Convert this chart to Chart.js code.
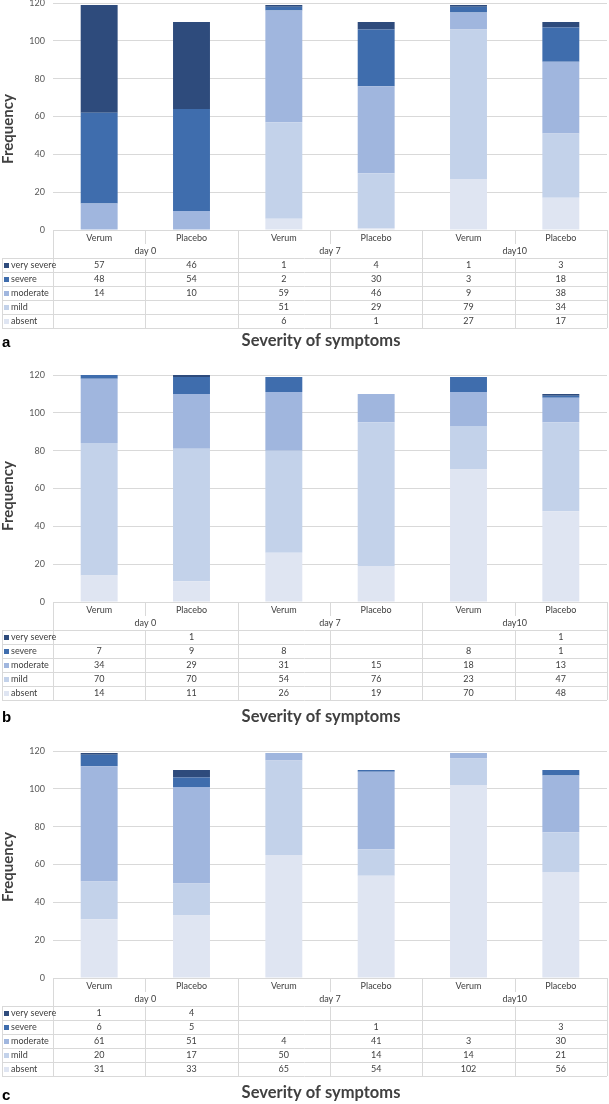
<!DOCTYPE html>
<html>
<head>
<meta charset="utf-8">
<title>Severity of symptoms</title>
<script src="https://cdn.jsdelivr.net/npm/chart.js@4.4.1/dist/chart.umd.min.js"></script>
<style>
    html, body { margin: 0; padding: 0; background: #fff; width: 609px; height: 1104px; overflow: hidden; }
    .panel { position: absolute; left: 0; width: 609px; height: 370px; }
</style>
</head>
<body>
<div class="panel" style="top:-12px;"><canvas id="chart-a"></canvas></div>
<div class="panel" style="top:360px;"><canvas id="chart-b"></canvas></div>
<div class="panel" style="top:736px;"><canvas id="chart-c"></canvas></div>

<script>
/* ── DATA ─────────────────────────────────────────────── */

var CATEGORIES = ['Verum', 'Placebo', 'Verum', 'Placebo', 'Verum', 'Placebo'];
var DAYS       = ['day 0', 'day 7', 'day10'];
var SEVERITY   = ['very severe', 'severe', 'moderate', 'mild', 'absent'];
var Y_MAX      = 120;
var Y_STEP     = 20;
var AXIS_TITLE = 'Frequency';
var X_TITLE    = 'Severity of symptoms';

// panel a
var A_VERY_SEVERE = [57, 46, 1, 4, 1, 3];
var A_SEVERE      = [48, 54, 2, 30, 3, 18];
var A_MODERATE    = [14, 10, 59, 46, 9, 38];
var A_MILD        = [null, null, 51, 29, 79, 34];
var A_ABSENT      = [null, null, 6, 1, 27, 17];

// panel b
var B_VERY_SEVERE = [null, 1, null, null, null, 1];
var B_SEVERE      = [7, 9, 8, null, 8, 1];
var B_MODERATE    = [34, 29, 31, 15, 18, 13];
var B_MILD        = [70, 70, 54, 76, 23, 47];
var B_ABSENT      = [14, 11, 26, 19, 70, 48];

// panel c
var C_VERY_SEVERE = [1, 4, null, null, null, null];
var C_SEVERE      = [6, 5, null, 1, null, 3];
var C_MODERATE    = [61, 51, 4, 41, 3, 30];
var C_MILD        = [20, 17, 50, 14, 14, 21];
var C_ABSENT      = [31, 33, 65, 54, 102, 56];

var SEV_COLORS = ['#2E4B7C', '#3F6DAD', '#A0B6DE', '#C3D2EA', '#DFE5F2'];
var TEXT_COLOR = '#404040';
var LINE_COLOR = '#D9D9D9';

/* ── TABLE + LABELS PLUGIN ────────────────────────────── */

function hline(ctx, x1, x2, y) {
    y = Math.round(y) + 0.5;
    ctx.beginPath(); ctx.moveTo(x1, y); ctx.lineTo(x2, y); ctx.stroke();
}
function vline(ctx, x, y1, y2) {
    x = Math.round(x) + 0.5;
    ctx.beginPath(); ctx.moveTo(x, y1); ctx.lineTo(x, y2); ctx.stroke();
}

var tablePlugin = {
    id: 'sevTable',
    afterDraw: function(chart, args, opts) {
        var ctx  = chart.ctx;
        var area = chart.chartArea;
        var xs   = chart.scales.x;
        var rows = opts.rows;               // top → bottom: very severe … absent
        var B = area.bottom, L = area.left, R = area.right;
        var w = (R - L) / CATEGORIES.length;
        var headH = 28, rowH = 14;
        var top2 = B + headH;
        var bottom = top2 + rowH * SEVERITY.length;

        ctx.save();
        ctx.strokeStyle = LINE_COLOR;
        ctx.lineWidth = 1;

        hline(ctx, L, R, B);
        for (var r = 0; r <= SEVERITY.length; r++) hline(ctx, 2, R, top2 + r * rowH);
        vline(ctx, L, B, bottom);
        vline(ctx, R, B, bottom);
        vline(ctx, 2, top2, bottom);
        for (var i = 1; i < CATEGORIES.length; i++) {
            var x = xs.getPixelForValue(i) - w / 2;
            if (i % 2 === 0) {
                vline(ctx, x, B, bottom);
            } else {
                vline(ctx, x, B, B + 14);
                vline(ctx, x, top2, bottom);
            }
        }

        ctx.fillStyle = TEXT_COLOR;
        ctx.font = '9px Lato';
        ctx.textAlign = 'center';
        ctx.textBaseline = 'middle';
        CATEGORIES.forEach(function(c, i) {
            ctx.fillText(c, xs.getPixelForValue(i), B + 8);
        });
        DAYS.forEach(function(d, k) {
            var cx = (xs.getPixelForValue(2 * k) + xs.getPixelForValue(2 * k + 1)) / 2;
            ctx.fillText(d, cx, B + 21);
        });

        SEVERITY.forEach(function(s, r) {
            var cy = top2 + r * rowH + rowH / 2 + 0.5;
            ctx.fillStyle = SEV_COLORS[r];
            ctx.fillRect(4, Math.round(cy) - 3, 5, 5);
            ctx.fillStyle = TEXT_COLOR;
            ctx.textAlign = 'left';
            ctx.fillText(s, 11, cy);
            ctx.textAlign = 'center';
            rows[r].forEach(function(v, i) {
                if (v !== null) ctx.fillText(String(v), xs.getPixelForValue(i), cy);
            });
        });

        // axis title (left)
        ctx.save();
        ctx.translate(8, opts.freqY);
        ctx.rotate(-Math.PI / 2);
        ctx.font = 'bold 15px Lato';
        ctx.fillStyle = TEXT_COLOR;
        ctx.textAlign = 'center';
        ctx.fillText(AXIS_TITLE, 0, 0);
        ctx.restore();

        // x title
        ctx.font = 'bold 16.5px Lato';
        ctx.fillStyle = TEXT_COLOR;
        ctx.textAlign = 'center';
        ctx.fillText(X_TITLE, 321, B + opts.titleDy);

        // panel letter
        ctx.font = 'bold 15px "Liberation Sans"';
        ctx.fillStyle = '#000';
        ctx.textAlign = 'left';
        ctx.fillText(opts.letter, 2, B + opts.letterDy);

        ctx.restore();
    }
};

/* ── CHART BUILDER ────────────────────────────────────── */

function makeChart(id, rows, extra) {
    // rows listed top→bottom in the table; stack bottom→top
    var datasets = [];
    for (var r = rows.length - 1; r >= 0; r--) {
        datasets.push({
            label: SEVERITY[r],
            data: rows[r],
            backgroundColor: SEV_COLORS[r],
            borderWidth: 0,
            barPercentage: 0.4,
            categoryPercentage: 1.0
        });
    }

    return new Chart(document.getElementById(id), {
        type: 'bar',
        data: { labels: CATEGORIES, datasets: datasets },
        plugins: [tablePlugin],
        options: {
            responsive: true, maintainAspectRatio: false, animation: false,
            layout: { padding: { top: 15, bottom: 128, left: 0, right: 2 } },
            plugins: {
                legend: { display: false },
                tooltip: { enabled: false },
                sevTable: {
                    rows: rows,
                    freqY: extra.freqY,
                    titleDy: extra.titleDy,
                    letter: extra.letter,
                    letterDy: extra.letterDy
                }
            },
            scales: {
                x: { stacked: true, display: false },
                y: {
                    stacked: true, min: 0, max: Y_MAX,
                    ticks: { stepSize: Y_STEP, color: '#595959', font: { family: 'Lato', size: 9 }, padding: 8 },
                    grid: { color: LINE_COLOR, drawTicks: false },
                    border: { display: false },
                    afterFit: function(s) { s.width = 53; }
                }
            }
        }
    });
}

makeChart('chart-a', [A_VERY_SEVERE, A_SEVERE, A_MODERATE, A_MILD, A_ABSENT],
    { freqY: 141, titleDy: 111, letter: 'a', letterDy: 113 });
makeChart('chart-b', [B_VERY_SEVERE, B_SEVERE, B_MODERATE, B_MILD, B_ABSENT],
    { freqY: 136, titleDy: 115, letter: 'b', letterDy: 116 });
makeChart('chart-c', [C_VERY_SEVERE, C_SEVERE, C_MODERATE, C_MILD, C_ABSENT],
    { freqY: 131, titleDy: 115, letter: 'c', letterDy: 118 });
</script>
</body>
</html>
